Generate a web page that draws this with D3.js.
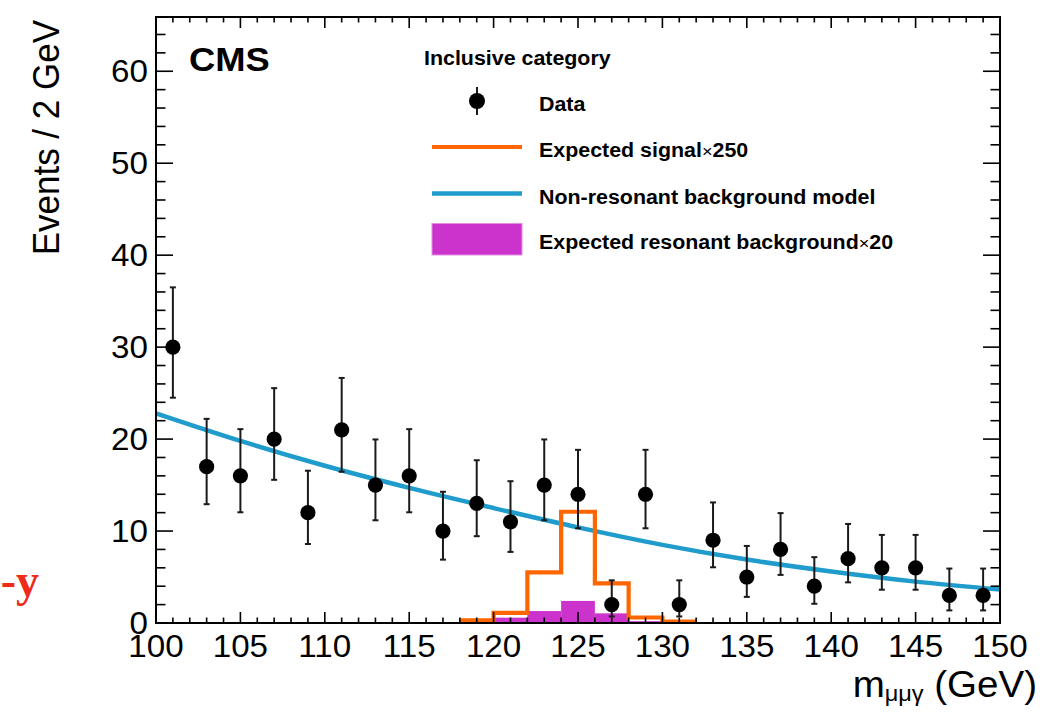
<!DOCTYPE html>
<html>
<head>
<meta charset="utf-8">
<script src="https://cdn.jsdelivr.net/npm/d3@7"></script>
<style>
  html, body { margin: 0; padding: 0; background: #ffffff; }
  svg { display: block; }
</style>
</head>
<body>
<svg id="chart" width="1045" height="713"></svg>
<script>
// ---- data ----
// Observed events per 2 GeV bin (bin centres)
const binCenters = [101, 103, 105, 107, 109, 111, 113, 115, 117, 119, 121, 123, 125,
                    127, 129, 131, 133, 135, 137, 139, 141, 143, 145, 147, 149];
const dataCounts = [30, 17, 16, 20, 12, 21, 15, 16, 10, 13, 11, 15, 14,
                    2, 14, 2, 9, 5, 8, 4, 7, 6, 6, 3, 3];
// Poisson (Garwood) 68% interval bounds
const dataLow  = [24.5, 12.92, 12.04, 15.57, 8.59, 16.45, 11.17, 12.04, 6.89, 9.44, 7.73, 11.17, 10.3,
                  0.71, 10.3, 0.71, 6.06, 2.84, 5.23, 2.09, 4.42, 3.62, 3.62, 1.37, 1.37];
const dataHigh = [36.5, 22.2, 21.08, 25.54, 16.56, 26.65, 19.96, 21.08, 14.27, 17.7, 15.42, 19.96, 18.83,
                  4.64, 18.83, 4.64, 13.11, 8.38, 11.95, 7.16, 10.77, 9.58, 9.58, 5.92, 5.92];

// Expected signal x250 and resonant background x20, 2 GeV bins from 118 to 132
const histEdges = [118, 120, 122, 124, 126, 128, 130, 132];
const signalX250 = [0.3, 1.1, 5.5, 12.1, 4.3, 0.6, 0.15];
const resonantX20 = [0.1, 0.58, 1.3, 2.4, 1.05, 0.2, 0.05];

// Non-resonant background model
const modelMass = [100, 105, 110, 115, 120, 125, 130, 135, 140, 145, 150];
const modelValue = [22.8, 19.8, 17.1, 14.7, 12.5, 10.4, 8.5, 6.9, 5.6, 4.5, 3.65];

// Axis tick labels
const xTickValues = [100, 105, 110, 115, 120, 125, 130, 135, 140, 145, 150];
const yTickValues = [0, 10, 20, 30, 40, 50, 60];

// Legend entries: [text before the multiplication sign, factor]
const legendLabels = [["Data", null], ["Expected signal", "250"],
                      ["Non-resonant background model", null], ["Expected resonant background", "20"]];

// ---- style ----
const ORANGE = "#ff6600";
const BLUE = "#1f9ccb";
const MAGENTA = "#cc33cc";
const FONT = "'Liberation Sans', Arial, Helvetica, sans-serif";
const SX = 1.07; // horizontal text stretch

const svg = d3.select("#chart");
const L = 156, R = 1000, T = 17, B = 623;

const x = d3.scaleLinear().domain([100, 150]).range([L, R]);
const y = d3.scaleLinear().domain([0, 65.9]).range([B, T]);

function placeText(sel, px, py, rot) {
  return sel.attr("transform", `translate(${px},${py}) scale(${SX},1)` + (rot ? ` rotate(${rot})` : ""));
}

// ---- resonant background (filled histogram) ----
svg.append("g").selectAll("rect")
  .data(resonantX20)
  .join("rect")
  .attr("x", (d, i) => x(histEdges[i]))
  .attr("width", (d, i) => x(histEdges[i + 1]) - x(histEdges[i]))
  .attr("y", d => y(d))
  .attr("height", d => y(0) - y(d))
  .attr("fill", MAGENTA);

// ---- background model ----
const modelLine = d3.line()
  .x((d, i) => x(modelMass[i]))
  .y(d => y(d))
  .curve(d3.curveMonotoneX);
svg.append("path")
  .datum(modelValue)
  .attr("d", modelLine)
  .attr("fill", "none")
  .attr("stroke", BLUE)
  .attr("stroke-width", 4.5);

// ---- signal step histogram ----
let stepPts = [];
signalX250.forEach((v, i) => {
  stepPts.push([histEdges[i], v]);
  stepPts.push([histEdges[i + 1], v]);
});
svg.append("path")
  .datum(stepPts)
  .attr("d", d3.line().x(d => x(d[0])).y(d => y(d[1])))
  .attr("fill", "none")
  .attr("stroke", ORANGE)
  .attr("stroke-width", 4.2)
  .attr("stroke-linejoin", "miter");

// ---- data points with error bars ----
const gData = svg.append("g");
binCenters.forEach((m, i) => {
  const cx = x(m);
  const g = gData.append("g");
  g.append("line")
    .attr("x1", cx).attr("x2", cx)
    .attr("y1", y(dataLow[i])).attr("y2", y(dataHigh[i]))
    .attr("stroke", "#1a1a1a").attr("stroke-width", 2);
  [dataLow[i], dataHigh[i]].forEach(v => {
    g.append("line")
      .attr("x1", cx - 3).attr("x2", cx + 3)
      .attr("y1", y(v)).attr("y2", y(v))
      .attr("stroke", "#1a1a1a").attr("stroke-width", 2);
  });
  g.append("circle")
    .attr("cx", cx).attr("cy", y(dataCounts[i]))
    .attr("r", 7.6).attr("fill", "#000");
});

// ---- frame and ticks (ticks inward on all four sides) ----
const axisG = svg.append("g").attr("stroke", "#000").attr("stroke-width", 1.6);
d3.range(100, 150.001, 1).forEach(v => {
  const major = v % 5 === 0;
  const len = major ? 11 : 5.5;
  axisG.append("line").attr("x1", x(v)).attr("x2", x(v)).attr("y1", B).attr("y2", B - len);
  axisG.append("line").attr("x1", x(v)).attr("x2", x(v)).attr("y1", T).attr("y2", T + len);
});
d3.range(0, 65.9, 2).forEach(v => {
  const major = v % 10 === 0;
  const len = major ? 17 : 9.5;
  axisG.append("line").attr("x1", L).attr("x2", L + len).attr("y1", y(v)).attr("y2", y(v));
  axisG.append("line").attr("x1", R).attr("x2", R - len).attr("y1", y(v)).attr("y2", y(v));
});
svg.append("rect")
  .attr("x", L).attr("y", T).attr("width", R - L).attr("height", B - T)
  .attr("fill", "none").attr("stroke", "#000").attr("stroke-width", 2);

// ---- tick labels ----
xTickValues.forEach(v => {
  placeText(svg.append("text"), x(v), 657)
    .attr("text-anchor", "middle")
    .attr("font-family", FONT).attr("font-size", 31)
    .text(v);
});
yTickValues.forEach(v => {
  placeText(svg.append("text"), 148, y(v) + 11)
    .attr("text-anchor", "end")
    .attr("font-family", FONT).attr("font-size", 31)
    .text(v);
});

// ---- axis titles ----
placeText(svg.append("text"), 59, 20, -90)
  .attr("text-anchor", "end")
  .attr("font-family", FONT).attr("font-size", 35)
  .text("Events / 2 GeV");

const xt = placeText(svg.append("text"), 1037, 697)
  .attr("text-anchor", "end")
  .attr("font-family", FONT).attr("font-size", 36);
xt.append("tspan").text("m");
xt.append("tspan").attr("font-size", 22).attr("dy", 4).text("\u03bc\u03bc\u03b3");
xt.append("tspan").attr("dy", -4).text(" (GeV)");

// ---- CMS label ----
placeText(svg.append("text"), 189, 71)
  .attr("font-family", FONT).attr("font-weight", "bold").attr("font-size", 34)
  .text("CMS");

// ---- legend ----
placeText(svg.append("text"), 424, 65)
  .attr("font-family", FONT).attr("font-weight", "bold").attr("font-size", 20)
  .text("Inclusive category");

const legY = [101, 147, 193.5, 239];
legendLabels.forEach(([t, f], i) => {
  const txt = placeText(svg.append("text"), 539, legY[i] + 10)
    .attr("font-family", FONT).attr("font-weight", "bold").attr("font-size", 20);
  txt.append("tspan").text(t);
  if (f) {
    txt.append("tspan").attr("font-weight", "normal").attr("font-size", 17).text("\u00d7");
    txt.append("tspan").text(f);
  }
});
// data marker
svg.append("line").attr("x1", 477).attr("x2", 477).attr("y1", 87).attr("y2", 115)
  .attr("stroke", "#1a1a1a").attr("stroke-width", 2);
svg.append("circle").attr("cx", 477).attr("cy", legY[0]).attr("r", 8).attr("fill", "#000");
// signal line
svg.append("line").attr("x1", 432).attr("x2", 522).attr("y1", legY[1]).attr("y2", legY[1])
  .attr("stroke", ORANGE).attr("stroke-width", 4.2);
// model line
svg.append("line").attr("x1", 432).attr("x2", 522).attr("y1", legY[2]).attr("y2", legY[2])
  .attr("stroke", BLUE).attr("stroke-width", 4.5);
// resonant box
svg.append("rect").attr("x", 432).attr("y", 223.5).attr("width", 90).attr("height", 31.5)
  .attr("fill", MAGENTA).attr("stroke", "#e58ee5").attr("stroke-width", 1);

// ---- margin fragment on the left ----
svg.append("text")
  .attr("x", 39).attr("y", 596)
  .attr("text-anchor", "end")
  .attr("font-family", "'Liberation Serif', 'DejaVu Serif', serif")
  .attr("font-weight", "bold").attr("font-size", 46)
  .attr("fill", "#ee2a1a")
  .text("-y");
</script>
</body>
</html>
